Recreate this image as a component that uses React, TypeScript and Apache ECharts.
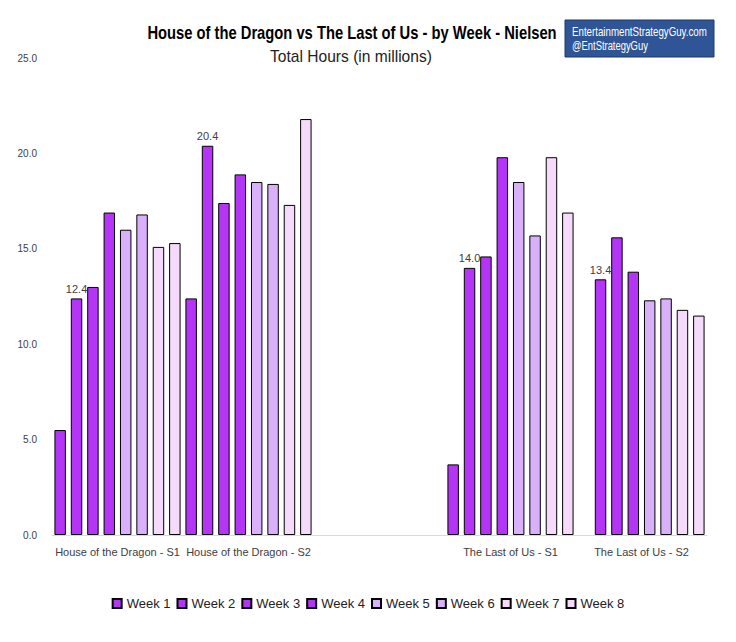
import React, { useEffect, useRef } from "react";
import * as echarts from "echarts";

const categories = [
  "House of the Dragon - S1",
  "House of the Dragon - S2",
  "",
  "The Last of Us - S1",
  "The Last of Us - S2",
];
const weekNames = ["Week 1", "Week 2", "Week 3", "Week 4", "Week 5", "Week 6", "Week 7", "Week 8"];
const week1 = [5.5, 12.4, null, 3.7, null];
const week2 = [12.4, 20.4, null, 14.0, 13.4];
const week3 = [13.0, 17.4, null, 14.6, 15.6];
const week4 = [16.9, 18.9, null, 19.8, 13.8];
const week5 = [16.0, 18.5, null, 18.5, 12.3];
const week6 = [16.8, 18.4, null, 15.7, 12.4];
const week7 = [15.1, 17.3, null, 19.8, 11.8];
const week8 = [15.3, 21.8, null, 16.9, 11.5];
const weekData = [week1, week2, week3, week4, week5, week6, week7, week8];
const weekColors = ["#B535F6", "#B535F6", "#B535F6", "#B535F6", "#D9B1FB", "#D9B1FB", "#F6DAFB", "#F6DAFB"];
const labelledWeek = 1;

const titleText = "House of the Dragon vs The Last of Us - by Week - Nielsen";
const subtitleText = "Total Hours (in millions)";
const brandLines = ["EntertainmentStrategyGuy.com", "@EntStrategyGuy"];

const SANS = "'Liberation Sans', Arial, sans-serif";

function measure(text: string, font: string): number {
  const c = document.createElement("canvas").getContext("2d");
  if (!c) return 100;
  c.font = font;
  return c.measureText(text).width || 100;
}

export default function App() {
  const ref = useRef<HTMLDivElement>(null);
  useEffect(() => {
    if (!ref.current) return;
    const chart = echarts.init(ref.current, undefined, { renderer: "svg" });
    const series = weekNames.map((name, i) => ({
      name,
      type: "bar",
      data: weekData[i],
      barGap: "43%",
      barCategoryGap: "3.7%",
      itemStyle: { color: weekColors[i], borderColor: "#000", borderWidth: 1 },
      label: {
        show: i === labelledWeek,
        position: "top",
        distance: 4,
        formatter: (p: any) => (p.value == null ? "" : Number(p.value).toFixed(1)),
        fontFamily: SANS,
        fontSize: 11,
        color: "#404040",
      },
    }));
    const tW = measure(titleText, "bold 18px 'Liberation Sans'");
    const sW = measure(subtitleText, "16px 'Liberation Sans'");
    const b1W = measure(brandLines[0], "12px 'Liberation Sans'");
    const b2W = measure(brandLines[1], "12px 'Liberation Sans'");
    chart.setOption({
      animation: false,
      backgroundColor: "#fff",
      grid: { left: 52, right: 29, top: 58, bottom: 107, containLabel: false },
      legend: {
        bottom: 27,
        left: "center",
        itemWidth: 9,
        itemHeight: 9,
        itemGap: 6,
        icon: "rect",
        textStyle: { fontFamily: SANS, fontSize: 13, color: "#222" },
        data: weekNames,
      },
      xAxis: {
        type: "category",
        data: categories,
        axisLine: { lineStyle: { color: "#D9D9D9", width: 1 } },
        axisTick: { show: false },
        axisLabel: { fontFamily: SANS, fontSize: 11, color: "#404040", margin: 11, interval: 0 },
      },
      yAxis: {
        type: "value",
        min: 0,
        max: 25,
        interval: 5,
        splitLine: { show: false },
        axisLine: { show: false },
        axisTick: { show: false },
        axisLabel: {
          fontFamily: SANS,
          fontSize: 10,
          color: "#404040",
          margin: 15,
          formatter: (v: number) => v.toFixed(1),
        },
      },
      graphic: [
        {
          type: "text",
          x: 352,
          y: 32,
          scaleX: 410 / tW,
          style: {
            text: titleText,
            fontFamily: SANS,
            fontWeight: "bold",
            fontSize: 18,
            fill: "#000",
            align: "center",
            verticalAlign: "middle",
          },
        },
        {
          type: "text",
          x: 351,
          y: 56,
          scaleX: 162 / sW,
          style: {
            text: subtitleText,
            fontFamily: SANS,
            fontSize: 16,
            fill: "#222",
            align: "center",
            verticalAlign: "middle",
          },
        },
        {
          type: "rect",
          shape: { x: 565, y: 20, width: 149, height: 37 },
          style: { fill: "#2F5597", stroke: "#1F3864", lineWidth: 1 },
        },
        {
          type: "text",
          x: 572,
          y: 32,
          scaleX: 135 / b1W,
          style: {
            text: brandLines[0],
            fontFamily: SANS,
            fontSize: 12,
            fill: "#fff",
            verticalAlign: "middle",
          },
        },
        {
          type: "text",
          x: 572,
          y: 46,
          scaleX: 76 / b2W,
          style: {
            text: brandLines[1],
            fontFamily: SANS,
            fontSize: 12,
            fill: "#fff",
            verticalAlign: "middle",
          },
        },
      ],
      series,
    });
    return () => chart.dispose();
  }, []);
  return (
    <div
      ref={ref}
      style={{ position: "fixed", left: 0, top: 0, width: 736, height: 642, background: "#fff" }}
    />
  );
}
